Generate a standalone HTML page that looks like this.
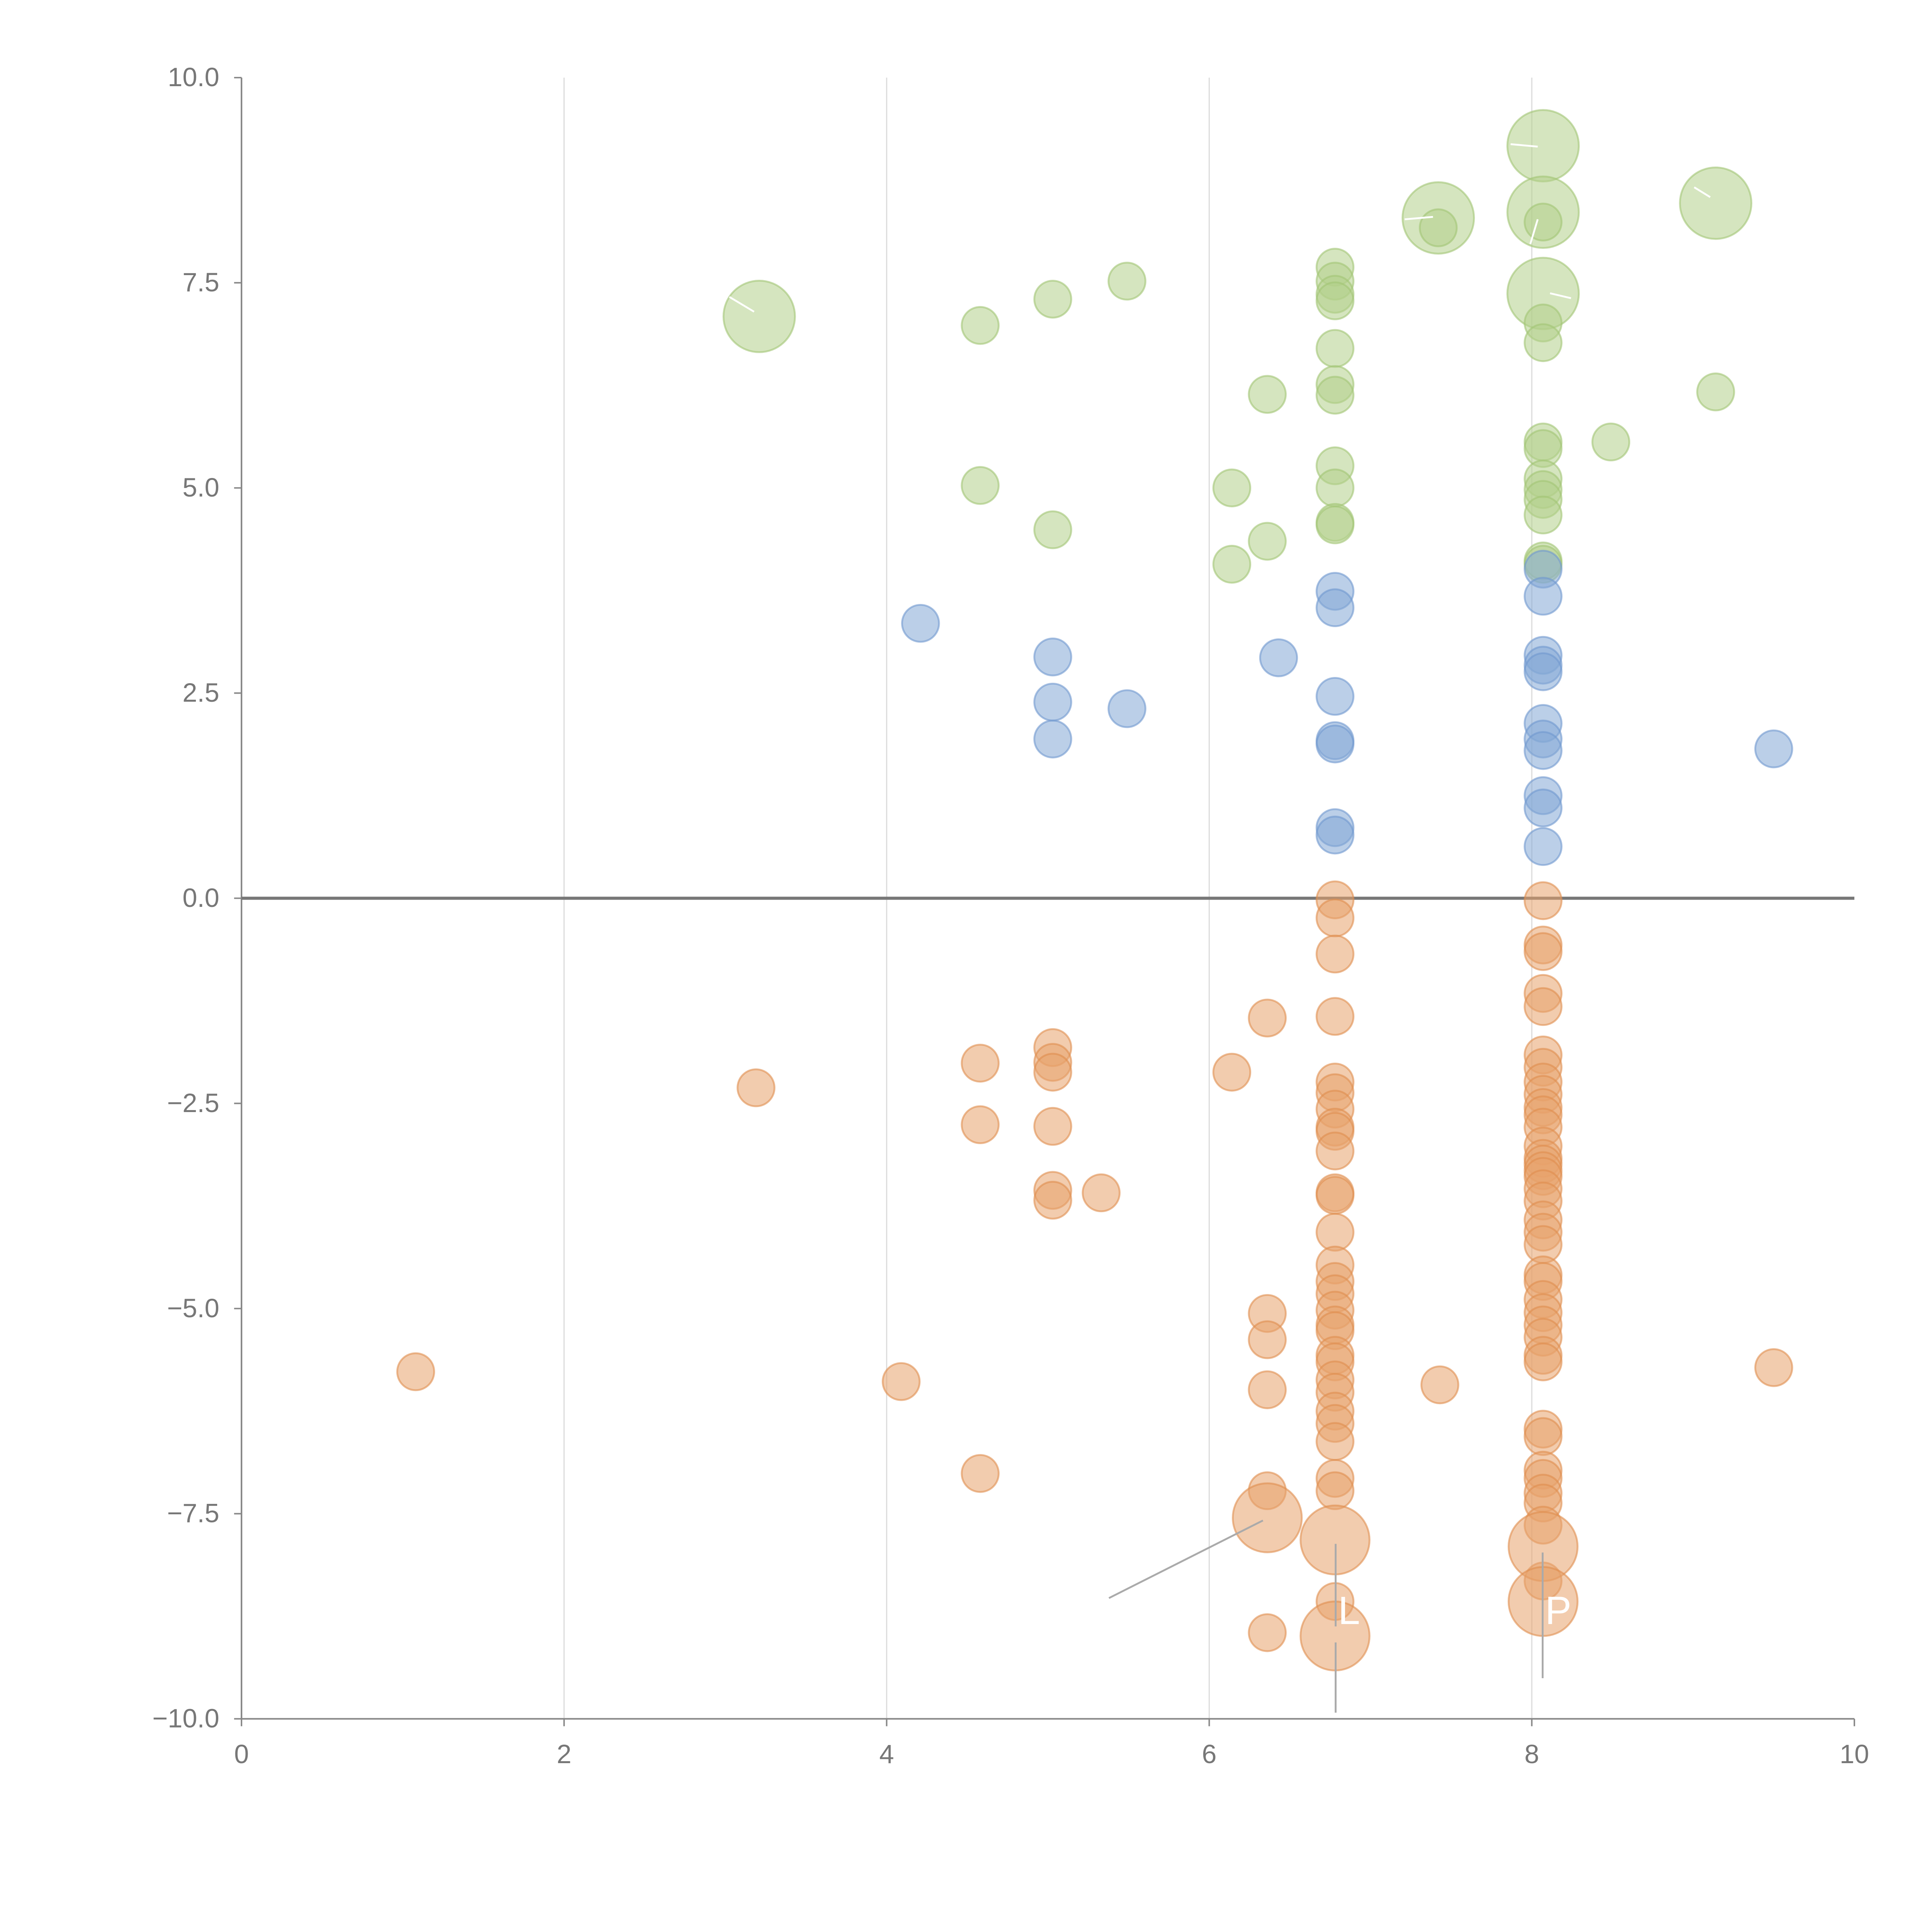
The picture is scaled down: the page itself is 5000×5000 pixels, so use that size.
<!DOCTYPE html>
<html><head><meta charset="utf-8"><style>html,body{margin:0;padding:0;background:#fff}svg{display:block}</style></head>
<body>
<svg id="chart" width="5000" height="5000" viewBox="0 0 1568 1568" xmlns="http://www.w3.org/2000/svg" font-family="Liberation Sans, sans-serif">
<g id="grid"></g>
<g id="axes"></g>
<g id="marks"></g>
<g id="annot"></g>
</svg>
<script>
const xTicks=[0,2,4,6,8,10];
const yTicks=[-10,-7.5,-5,-2.5,0,2.5,5,7.5,10];
const yTickLabels=["\u221210.0","\u22127.5","\u22125.0","\u22122.5","0.0","2.5","5.0","7.5","10.0"];
const greenX=[4.58,5.03,5.49,4.58,5.03,6.14,6.14,6.36,6.36,6.78,6.78,6.78,6.78,6.78,6.78,6.78,6.78,6.78,6.78,6.78,8.07,8.07,8.07,8.07,8.07,8.07,8.07,8.07,8.07,8.07,7.42,8.07,8.49,9.14];
const greenY=[6.98,7.30,7.52,5.03,4.49,5.0,4.07,6.14,4.35,7.69,7.52,7.36,7.28,6.70,6.26,6.13,5.27,5.0,4.58,4.55,7.01,6.77,5.56,5.48,5.11,4.98,4.86,4.67,4.11,4.07,8.17,8.24,5.56,6.17];
const greenBigX=[3.21,7.42,8.07,8.07,8.07,9.14];
const greenBigY=[7.09,8.29,9.17,8.36,7.37,8.47];
const blueX=[4.21,5.03,5.03,5.03,5.49,6.43,6.78,6.78,6.78,6.78,6.78,6.78,6.78,8.07,8.07,8.07,8.07,8.07,8.07,8.07,8.07,8.07,8.07,8.07,9.50];
const blueY=[3.35,2.94,2.39,1.94,2.31,2.93,3.74,3.54,2.46,1.92,1.88,0.86,0.77,4.01,3.68,2.96,2.84,2.76,2.13,1.94,1.80,1.25,1.10,0.63,1.82];
const orangeX=[1.08,3.19,4.09,4.58,4.58,4.58,5.03,5.03,5.03,5.03,5.03,5.03,5.33,6.14,6.36,6.36,6.36,6.36,6.36,6.36,7.43,9.50];
const orangeY=[-5.77,-2.31,-5.89,-2.01,-2.76,-7.01,-1.82,-2.0,-2.12,-2.78,-3.56,-3.68,-3.59,-2.12,-1.46,-5.06,-5.38,-5.99,-7.22,-8.95,-5.93,-5.72];
const orangeA=[-0.02,-0.24,-0.68,-1.44,-2.24,-2.37,-2.57,-2.79,-2.84,-3.08,-3.59,-3.62,-4.07,-4.47,-4.67,-4.82,-5.02,-5.20,-5.27,-5.57,-5.65,-5.87,-6.02,-6.25,-6.40,-6.62,-7.07,-7.22,-8.57];
const orangeB=[-0.03,-0.57,-0.65,-1.16,-1.32,-1.91,-2.06,-2.24,-2.39,-2.55,-2.64,-2.79,-3.02,-3.17,-3.24,-3.32,-3.39,-3.54,-3.69,-3.92,-4.07,-4.22,-4.59,-4.67,-4.89,-5.05,-5.20,-5.35,-5.57,-5.65,-6.47,-6.56,-6.97,-7.07,-7.25,-7.37,-7.64,-8.32];
const orangeBigX=[6.36,6.78,6.78,8.07,8.07];
const orangeBigY=[-7.55,-7.82,-8.99,-7.90,-8.57];

const NS="http://www.w3.org/2000/svg";
const X0=196,X1=1505,Y0=1395,Y1=63;
function sx(v){return X0+(v-0)/(10-0)*(X1-X0);}
function sy(v){return Y0-(v+10)/20*(Y0-Y1);}
function el(tag,attrs,parent){const e=document.createElementNS(NS,tag);for(const k in attrs)e.setAttribute(k,attrs[k]);parent.appendChild(e);return e;}
const grid=document.getElementById('grid'),axes=document.getElementById('axes'),marks=document.getElementById('marks'),annot=document.getElementById('annot');
xTicks.forEach(t=>{
  if(t>0&&t<10){const g=el('line',{x1:sx(t),x2:sx(t),y1:Y1,y2:Y0,stroke:'#dddddd','stroke-width':1},grid);
  
  }
  const tk=el('line',{x1:sx(t),x2:sx(t),y1:Y0,y2:Y0+6,stroke:'#888','stroke-width':1.2},axes);
  
  
  const tx=el('text',{x:sx(t),y:Y0+36,'text-anchor':'middle','font-size':21.5,fill:'#777'},axes);
  
  
  tx.textContent=String(t);
});
yTicks.forEach((t,i)=>{
  const tk=el('line',{x1:X0-6,x2:X0,y1:sy(t),y2:sy(t),stroke:'#888','stroke-width':1.2},axes);
  
  
  const tx=el('text',{x:X0-18,y:sy(t)+7,'text-anchor':'end','font-size':21.5,fill:'#777'},axes);
  
  
  tx.textContent=yTickLabels[i];
});
let a=el('line',{x1:X0,x2:X0,y1:Y1,y2:Y0,stroke:'#888','stroke-width':1.3},axes);


a=el('line',{x1:X0,x2:X1,y1:Y0,y2:Y0,stroke:'#888','stroke-width':1.3},axes);


a=el('line',{x1:X0,x2:X1,y1:sy(0),y2:sy(0),stroke:'#777','stroke-width':2.5},axes);



function dot(x,y,r,fill,stroke,name){
  const c=el('circle',{cx:sx(x),cy:sy(y),r:r,fill:fill,'fill-opacity':0.55,stroke:stroke,'stroke-opacity':0.6,'stroke-width':1.5},marks);
  
  
}
const G='#b3cf8a',GS='#a2c474',B='#84a8d6',BS='#6f98cf',O='#e8a26c',OS='#e08e4e';
greenBigX.forEach((x,i)=>dot(x,greenBigY[i],29,G,GS,'green-bubble-large'));
greenX.forEach((x,i)=>dot(x,greenY[i],15,G,GS,'green-bubble'));
blueX.forEach((x,i)=>dot(x,blueY[i],15,B,BS,'blue-bubble'));
orangeX.forEach((x,i)=>dot(x,orangeY[i],15,O,OS,'orange-bubble'));
orangeA.forEach(y=>dot(6.78,y,15,O,OS,'orange-bubble'));
orangeB.forEach(y=>dot(8.07,y,15,O,OS,'orange-bubble'));
orangeBigX.forEach((x,i)=>dot(x,orangeBigY[i],28,O,OS,'orange-bubble-large'));

function ln(x1,y1,x2,y2,c,w,name){const l=el('line',{x1,y1,x2,y2,stroke:c,'stroke-width':w},annot);
  
  }
ln(900,1297,1025,1234,'#aaa',1.5,'annotation-leader');
ln(1084,1253,1084,1320,'#aaa',1.5,'annotation-leader');
ln(1084,1333,1084,1390,'#aaa',1.5,'annotation-leader');
ln(1252,1260,1252,1362,'#aaa',1.5,'annotation-leader');
ln(592,241,612,253,'#fff',1.5,'annotation-leader');
ln(1226,117,1248,119,'#fff',1.5,'annotation-leader');
ln(1140,178,1163,176,'#fff',1.5,'annotation-leader');
ln(1375,152,1388,160,'#fff',1.5,'annotation-leader');
ln(1248,178,1242,198,'#fff',1.5,'annotation-leader');
ln(1258,238,1275,242,'#fff',1.5,'annotation-leader');
let t=el('text',{x:1086,y:1318,'font-size':32,fill:'#fff'},annot);


t.textContent='L';
t=el('text',{x:1254,y:1318,'font-size':32,fill:'#fff'},annot);


t.textContent='P';
</script>
</body></html>
